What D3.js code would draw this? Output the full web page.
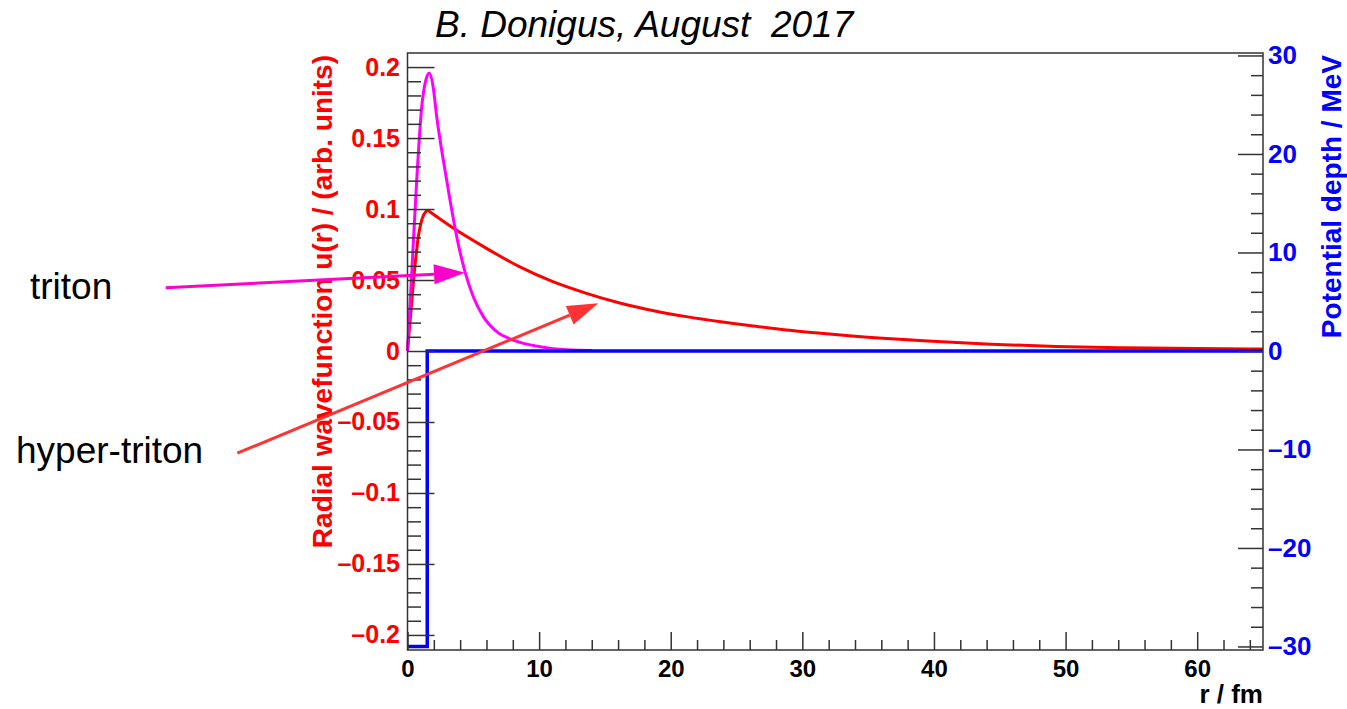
<!DOCTYPE html>
<html>
<head>
<meta charset="utf-8">
<script src="https://cdn.jsdelivr.net/npm/d3@7"></script>
<style>
  body { margin: 0; background: #fff; }
  svg { display: block; font-family: "Liberation Sans", Arial, Helvetica, sans-serif; }
</style>
</head>
<body>
<svg id="chart" width="1347" height="709"></svg>
<script>
// hyper-triton wavefunction, inside the well (r / fm, u in arb. units)
const hyperInR = [0, 0.44, 0.82, 1.08, 1.5];
const hyperInU = [0, 0.0477, 0.0805, 0.0922, 0.0993];
// hyper-triton wavefunction, outside the well
const hyperOutR = [1.5, 3.5, 6, 8.5, 11, 13.6, 16.2, 18.7, 21.2, 23.8, 26.3, 28.8, 31.4, 34, 37.4, 39.2, 44.3, 49.3, 54.4, 60, 65];
const hyperOutU = [0.0993, 0.0864, 0.0723, 0.0594, 0.0490, 0.0406, 0.0336, 0.0284, 0.0242, 0.0206, 0.0176, 0.0148, 0.0125, 0.0104, 0.0082, 0.0072, 0.0048, 0.0032, 0.0023, 0.0017, 0.0014];
// triton wavefunction
const tritonR = [0, 0.32, 0.70, 1.08, 1.4, 1.66, 1.95, 2.22, 2.72, 3.23, 3.74, 4.37, 5.0, 5.76, 6.78, 8.04, 10.07, 12.1, 14];
const tritonU = [0, 0.0547, 0.1204, 0.172, 0.191, 0.1958, 0.186, 0.165, 0.1345, 0.1063, 0.0805, 0.0558, 0.0382, 0.0242, 0.0136, 0.0077, 0.003, 0.0008, 0.0003];
// square well potential (MeV)
const wellR = [0, 1.5, 65];
const wellV = [-30, 0, 0];

const xTicks = [0, 10, 20, 30, 40, 50, 60];
const leftTicks = [-0.2, -0.15, -0.1, -0.05, 0, 0.05, 0.1, 0.15, 0.2];
const leftLabels = ["\u20130.2", "\u20130.15", "\u20130.1", "\u20130.05", "0", "0.05", "0.1", "0.15", "0.2"];
const rightTicks = [-30, -20, -10, 0, 10, 20, 30];
const rightLabels = ["\u201330", "\u201320", "\u201310", "0", "10", "20", "30"];

// annotations, in data coordinates (r, u)
const noteText = ["triton", "hyper-triton"];
const noteFrom = [[-18.37, 0.0446], [-12.93, -0.072]];
const noteTo = [[4.37, 0.0551], [14.5, 0.0336]];

const svg = d3.select("#chart");
const plotLeft = 407.5, plotRight = 1263, plotTop = 53, plotBottom = 650;

const x = d3.scaleLinear().domain([0, 65]).range([plotLeft, plotRight]);
const yL = d3.scaleLinear().domain([-0.2106, 0.2099]).range([plotBottom, plotTop]);
const yR = d3.scaleLinear().domain([-30.36, 30.25]).range([plotBottom, plotTop]);

const axisColor = "#333";

// title
svg.append("text")
  .attr("x", 435).attr("y", 37)
  .attr("font-size", 37).attr("font-style", "italic")
  .style("white-space", "pre")
  .text("B. Donigus, August  2017");

// curves
const lineL = d3.line().x(d => x(d[0])).y(d => yL(d[1])).curve(d3.curveMonotoneX);

svg.append("path")
  .datum(hyperInR.map((r, i) => [r, hyperInU[i]]))
  .attr("d", lineL).attr("fill", "none").attr("stroke", "#ff0000").attr("stroke-width", 3);
svg.append("path")
  .datum(hyperOutR.map((r, i) => [r, hyperOutU[i]]))
  .attr("d", lineL).attr("fill", "none").attr("stroke", "#ff0000").attr("stroke-width", 3);
svg.append("path")
  .datum(tritonR.map((r, i) => [r, tritonU[i]]))
  .attr("d", lineL).attr("fill", "none").attr("stroke", "#ff00ff").attr("stroke-width", 3);

const lineR = d3.line().x(d => x(d[0])).y(d => yR(d[1])).curve(d3.curveStepAfter);
svg.append("path")
  .datum(wellR.map((r, i) => [r, wellV[i]]))
  .attr("d", lineR).attr("fill", "none").attr("stroke", "#0000ff").attr("stroke-width", 3.5);

// frame
svg.append("rect")
  .attr("x", plotLeft).attr("y", plotTop)
  .attr("width", plotRight - plotLeft).attr("height", plotBottom - plotTop)
  .attr("fill", "none").attr("stroke", axisColor).attr("stroke-width", 1.5);

// x axis
const xMinor = d3.range(0, 65, 2).filter(v => v % 10 !== 0);
const gx = svg.append("g").attr("transform", `translate(0,${plotBottom})`)
  .call(d3.axisBottom(x).tickValues(xTicks).tickSize(-18).tickPadding(10).tickFormat(d3.format("d")));
svg.append("g").attr("transform", `translate(0,${plotBottom})`)
  .call(d3.axisBottom(x).tickValues(xMinor).tickSize(-10).tickFormat(""));

// left axis
const lMinor = d3.range(-20, 21, 1).map(v => v / 100).filter(v => Math.round(v * 100) % 5 !== 0);
const gl = svg.append("g").attr("transform", `translate(${plotLeft},0)`)
  .call(d3.axisLeft(yL).tickValues(leftTicks).tickSize(-27).tickPadding(7.5)
    .tickFormat((d, i) => leftLabels[i]));
svg.append("g").attr("transform", `translate(${plotLeft},0)`)
  .call(d3.axisLeft(yL).tickValues(lMinor).tickSize(-13.5).tickFormat(""));

// right axis
const rMinor = d3.range(-30, 31, 2).filter(v => v % 10 !== 0);
const gr = svg.append("g").attr("transform", `translate(${plotRight},0)`)
  .call(d3.axisRight(yR).tickValues(rightTicks).tickSize(-25).tickPadding(5)
    .tickFormat((d, i) => rightLabels[i]));
svg.append("g").attr("transform", `translate(${plotRight},0)`)
  .call(d3.axisRight(yR).tickValues(rMinor).tickSize(-12).tickFormat(""));

svg.selectAll(".domain").remove();
svg.selectAll(".tick line").attr("stroke", axisColor).attr("stroke-width", 1.5);
svg.selectAll("g").attr("font-family", null);

gx.selectAll("text").attr("font-size", 24).attr("font-weight", "bold").attr("fill", "#000");
gl.selectAll("text").attr("font-size", 25).attr("font-weight", "bold").attr("fill", "#ff0000");
gr.selectAll("text").attr("font-size", 26).attr("font-weight", "bold").attr("fill", "#0000ff");

// axis titles
svg.append("text")
  .attr("transform", `translate(332,55) rotate(-90)`)
  .attr("text-anchor", "end").attr("font-size", 28).attr("font-weight", "bold")
  .attr("fill", "#ff0000")
  .text("Radial wavefunction u(r) / (arb. units)");

svg.append("text")
  .attr("transform", `translate(1341,55) rotate(-90)`)
  .attr("text-anchor", "end").attr("font-size", 28).attr("font-weight", "bold")
  .attr("fill", "#0000ff")
  .text("Potential depth / MeV");

svg.append("text")
  .attr("x", plotRight).attr("y", 703)
  .attr("text-anchor", "end").attr("font-size", 26).attr("font-weight", "bold")
  .text("r / fm");

// arrows with labels
const noteColor = ["#ff00cc", "#ff3333"];
const noteLabelPos = [[30, 299], [16, 463]];
noteText.forEach((t, i) => {
  const x1 = x(noteFrom[i][0]), y1 = yL(noteFrom[i][1]);
  const x2 = x(noteTo[i][0]), y2 = yL(noteTo[i][1]);
  const len = Math.hypot(x2 - x1, y2 - y1);
  const ux = (x2 - x1) / len, uy = (y2 - y1) / len;
  const headLen = 31, headW = 10;
  const bx = x2 - ux * headLen, by = y2 - uy * headLen;
  svg.append("line")
    .attr("x1", x1).attr("y1", y1).attr("x2", bx).attr("y2", by)
    .attr("stroke", noteColor[i]).attr("stroke-width", 3);
  svg.append("path")
    .attr("d", `M${x2},${y2}L${bx - uy * headW},${by + ux * headW}L${bx + uy * headW},${by - ux * headW}Z`)
    .attr("fill", noteColor[i]);
  svg.append("text")
    .attr("x", noteLabelPos[i][0]).attr("y", noteLabelPos[i][1])
    .attr("font-size", 37)
    .text(t);
});
</script>
</body>
</html>
